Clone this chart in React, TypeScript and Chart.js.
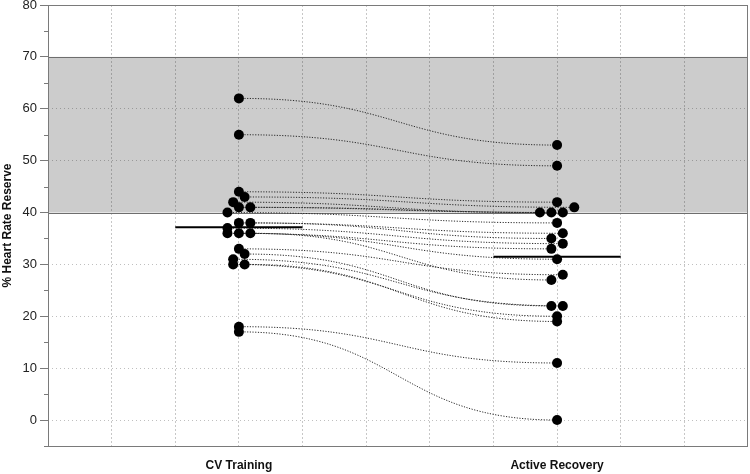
import React, { useEffect, useRef } from 'react';
import { Chart, registerables } from 'chart.js';

Chart.register(...registerables);

// ---- data ----
const groupLabels = ['CV Training', 'Active Recovery'];
const groupPositions = [1, 2];

// paired observations (same index = same subject)
const cvValues = [62, 55, 44, 43, 42, 41, 41, 40, 38, 38, 37, 36, 36, 36, 33, 32, 31, 30, 30, 18, 17];
const cvJitter = [0, 0, 0, 1, -1, 0, 2, -2, 0, 2, -2, -2, 0, 2, 0, 1, -1, -1, 1, 0, 0];
const arValues = [53, 49, 42, 41, 40, 40, 40, 38, 36, 35, 34, 33, 31, 27, 28, 22, 22, 20, 19, 11, 0];
const arJitter = [0, 0, 0, 3, -3, -1, 1, 0, 1, -1, 1, -1, 0, -1, 1, -1, 1, 0, 0, 0, 0];

const targetZone = [40, 70];
const yRange = [-5, 80];
const xRange = [0.4, 2.6];

const JITTER_STEP = 0.018;
const MEAN_HALF_WIDTH = 0.2;

const mean = (a: number[]) => a.reduce((s, v) => s + v, 0) / a.length;
const cvMean = mean(cvValues);
const arMean = mean(arValues);

const cvPoints = cvValues.map((v, i) => ({ x: groupPositions[0] + cvJitter[i] * JITTER_STEP, y: v }));
const arPoints = arValues.map((v, i) => ({ x: groupPositions[1] + arJitter[i] * JITTER_STEP, y: v }));

const FRAME = '#7a7a7a';

const bandPlugin = {
  id: 'band',
  beforeDraw(chart: any) {
    const { ctx, chartArea, scales } = chart;
    const y = scales.y;
    const top = y.getPixelForValue(targetZone[1]);
    const bot = y.getPixelForValue(targetZone[0]);
    ctx.save();
    ctx.fillStyle = '#cccccc';
    ctx.fillRect(chartArea.left, top, chartArea.right - chartArea.left, bot - top);
    ctx.restore();
  },
  beforeDatasetsDraw(chart: any) {
    const { ctx, chartArea, scales } = chart;
    const x = scales.x;
    const y = scales.y;
    ctx.save();
    // band edges
    ctx.strokeStyle = '#6e6e6e';
    ctx.lineWidth = 1;
    [targetZone[0], targetZone[1]].forEach((v) => {
      const py = Math.round(y.getPixelForValue(v)) + 0.5;
      ctx.beginPath();
      ctx.moveTo(chartArea.left, py);
      ctx.lineTo(chartArea.right, py);
      ctx.stroke();
    });
    // frame
    ctx.strokeStyle = FRAME;
    ctx.strokeRect(Math.round(chartArea.left) + 0.5, Math.round(chartArea.top) + 0.5,
      Math.round(chartArea.right - chartArea.left) - 1, Math.round(chartArea.bottom - chartArea.top));
    // minor y ticks
    for (let v = yRange[0]; v <= yRange[1]; v += 5) {
      if (v % 10 !== 0) {
        const py = Math.round(y.getPixelForValue(v)) + 0.5;
        ctx.beginPath();
        ctx.moveTo(chartArea.left - 4, py);
        ctx.lineTo(chartArea.left, py);
        ctx.stroke();
      }
    }
    // paired curves
    ctx.strokeStyle = '#2a2a2a';
    ctx.lineWidth = 1;
    ctx.setLineDash([1.2, 1.5]);
    for (let i = 0; i < cvPoints.length; i++) {
      const x1 = x.getPixelForValue(cvPoints[i].x);
      const y1 = y.getPixelForValue(cvPoints[i].y);
      const x2 = x.getPixelForValue(arPoints[i].x);
      const y2 = y.getPixelForValue(arPoints[i].y);
      const d = (x2 - x1) * 0.5;
      ctx.beginPath();
      ctx.moveTo(x1, y1);
      ctx.bezierCurveTo(x1 + d, y1, x2 - d, y2, x2, y2);
      ctx.stroke();
    }
    ctx.restore();
  },
};

export default function App() {
  const ref = useRef<HTMLCanvasElement | null>(null);
  useEffect(() => {
    if (!ref.current) return;
    const font = 'Liberation Sans, Arial, Helvetica, sans-serif';
    const chart = new Chart(ref.current, {
      type: 'scatter',
      data: {
        datasets: [
          {
            data: [{ x: groupPositions[0] - MEAN_HALF_WIDTH, y: cvMean }, { x: groupPositions[0] + MEAN_HALF_WIDTH, y: cvMean }],
            showLine: true, borderColor: '#000', borderWidth: 2, pointRadius: 0, order: 3,
          },
          {
            data: [{ x: groupPositions[1] - MEAN_HALF_WIDTH, y: arMean }, { x: groupPositions[1] + MEAN_HALF_WIDTH, y: arMean }],
            showLine: true, borderColor: '#000', borderWidth: 2, pointRadius: 0, order: 3,
          },
          { data: cvPoints, backgroundColor: '#000', borderWidth: 0, pointRadius: 5, order: 1 },
          { data: arPoints, backgroundColor: '#000', borderWidth: 0, pointRadius: 5, order: 1 },
        ],
      } as any,
      options: {
        animation: false,
        responsive: false,
        devicePixelRatio: 1,
        layout: { autoPadding: false, padding: { top: 5, right: 2, left: 0, bottom: 0 } },
        plugins: { legend: { display: false }, tooltip: { enabled: false } },
        scales: {
          x: {
            type: 'linear',
            min: xRange[0],
            max: xRange[1],
            border: { display: false, dash: [2, 2] },
            grid: {
              color: (c: any) => {
                const v = c.tick ? c.tick.value : 0;
                return v <= xRange[0] + 1e-6 || v >= xRange[1] - 1e-6 ? 'transparent' : 'rgba(0,0,0,0.22)';
              },
              drawTicks: false,
              tickBorderDash: [],
            },
            ticks: {
              stepSize: 0.2,
              autoSkip: false,
              maxRotation: 0,
              padding: 12,
              color: '#111',
              font: { family: font, size: 12, weight: 'bold' },
              callback: (v: any) => {
                const idx = groupPositions.findIndex((p) => Math.abs(p - Number(v)) < 1e-6);
                return idx >= 0 ? groupLabels[idx] : '';
              },
            },
            afterFit: (s: any) => { s.height = 28; s.paddingLeft = 0; s.paddingRight = 0; },
          },
          y: {
            type: 'linear',
            min: yRange[0],
            max: yRange[1],
            border: { display: false, dash: [1, 3] },
            grid: {
              color: (c: any) => {
                const v = c.tick ? c.tick.value : 0;
                if (v % 10 !== 0 || v < 0 || v === targetZone[0] || v === targetZone[1] || v === yRange[1]) return 'transparent';
                return 'rgba(0,0,0,0.25)';
              },
              tickColor: (c: any) => (c.tick && c.tick.value % 10 === 0 ? FRAME : 'transparent'),
              tickLength: 8,
              tickBorderDash: [],
            },
            ticks: {
              stepSize: 5,
              autoSkip: false,
              padding: 3,
              color: '#222',
              font: { family: font, size: 13 },
              callback: (v: any) => (Number(v) % 10 === 0 ? String(v) : ''),
            },
            title: {
              display: true,
              text: '% Heart Rate Reserve',
              color: '#111',
              font: { family: font, size: 12, weight: 'bold' },
              padding: { top: 0, bottom: 0 },
            },
            afterFit: (s: any) => { s.width = 48; s.paddingTop = 0; s.paddingBottom = 0; },
          },
        },
      } as any,
      plugins: [bandPlugin],
    });
    return () => chart.destroy();
  }, []);
  return (
    <div style={{ position: 'absolute', left: 0, top: 0, width: 750, height: 474, background: '#fff' }}>
      <canvas ref={ref} width={750} height={474} style={{ display: 'block' }} />
    </div>
  );
}
